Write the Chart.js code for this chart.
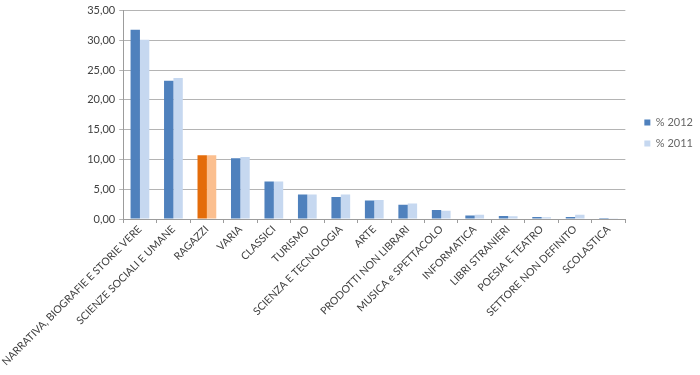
<!DOCTYPE html>
<html>
<head>
<meta charset="utf-8">
<script src="https://cdn.jsdelivr.net/npm/chart.js@4/dist/chart.umd.min.js"></script>
<style>
  html, body { margin: 0; padding: 0; background: #fff; }
  #wrap { width: 700px; height: 375px; }
</style>
</head>
<body>
<div id="wrap"><canvas id="chart" width="700" height="375"></canvas></div>
<script>
// Categories and percentages
const categories = [
    'NARRATIVA, BIOGRAFIE E STORIE VERE', 'SCIENZE SOCIALI E UMANE', 'RAGAZZI', 'VARIA',
    'CLASSICI', 'TURISMO', 'SCIENZA E TECNOLOGIA', 'ARTE', 'PRODOTTI NON LIBRARI',
    'MUSICA e SPETTACOLO', 'INFORMATICA', 'LIBRI STRANIERI', 'POESIA E TEATRO',
    'SETTORE NON DEFINITO', 'SCOLASTICA'
];
const pct2012 = [31.8, 23.2, 10.7, 10.2, 6.3, 4.1, 3.7, 3.1, 2.4, 1.5, 0.6, 0.5, 0.35, 0.35, 0.17];
const pct2011 = [30.1, 23.7, 10.7, 10.4, 6.3, 4.1, 4.1, 3.2, 2.6, 1.4, 0.7, 0.45, 0.3, 0.7, 0.12];
const yTicks = [0, 5, 10, 15, 20, 25, 30, 35];

const highlight = 'RAGAZZI';
const blue = '#4f81bd', lightBlue = '#c6d8f0';
const orange = '#e46c0a', lightOrange = '#fbbf8f';

const fontFamily = 'Lato, "Open Sans", sans-serif';
const gray = '#9c9c9c';

// push the legend a bit further right of the plot, like the original
const legendNudge = {
    id: 'legendNudge',
    afterLayout(chart) {
        if (chart.legend) chart.legend.left += 9;
    }
};

new Chart(document.getElementById('chart'), {
    type: 'bar',
    data: {
        labels: categories,
        datasets: [{
            label: '% 2012',
            data: pct2012,
            backgroundColor: categories.map(c => c === highlight ? orange : blue),
            categoryPercentage: 0.56,
            barPercentage: 1
        }, {
            label: '% 2011',
            data: pct2011,
            backgroundColor: categories.map(c => c === highlight ? lightOrange : lightBlue),
            categoryPercentage: 0.56,
            barPercentage: 1
        }]
    },
    plugins: [legendNudge],
    options: {
        responsive: false,
        animation: false,
        layout: { padding: { left: 76, top: 9, right: 6, bottom: 7 } },
        plugins: {
            tooltip: { enabled: false },
            legend: {
                position: 'right',
                fullSize: false,
                title: { display: true, text: '', padding: { top: 0, bottom: 22 }, font: { size: 12 } },
                labels: {
                    boxWidth: 6,
                    boxHeight: 6,
                    padding: 10,
                    color: '#404040',
                    font: { family: fontFamily, size: 11 },
                    generateLabels: chart => chart.data.datasets.map((ds, i) => ({
                        text: ds.label,
                        fillStyle: i === 0 ? blue : lightBlue,
                        strokeStyle: i === 0 ? blue : lightBlue,
                        lineWidth: 0,
                        datasetIndex: i
                    }))
                }
            }
        },
        scales: {
            x: {
                grid: { display: true, drawOnChartArea: false, offset: true, color: gray, tickLength: 4 },
                border: { color: gray },
                ticks: {
                    minRotation: 45,
                    maxRotation: 45,
                    autoSkip: false,
                    color: '#404040',
                    font: { family: fontFamily, size: 10.5 },
                    padding: 0
                }
            },
            y: {
                min: 0,
                max: 35,
                afterBuildTicks: axis => { axis.ticks = yTicks.map(v => ({ value: v })); },
                grid: { color: '#b4b4b4', tickLength: 4 },
                border: { color: gray },
                ticks: {
                    color: '#404040',
                    font: { family: fontFamily, size: 11 },
                    padding: 4,
                    callback: v => v.toFixed(2).replace('.', ',')
                }
            }
        }
    }
});
</script>
</body>
</html>
